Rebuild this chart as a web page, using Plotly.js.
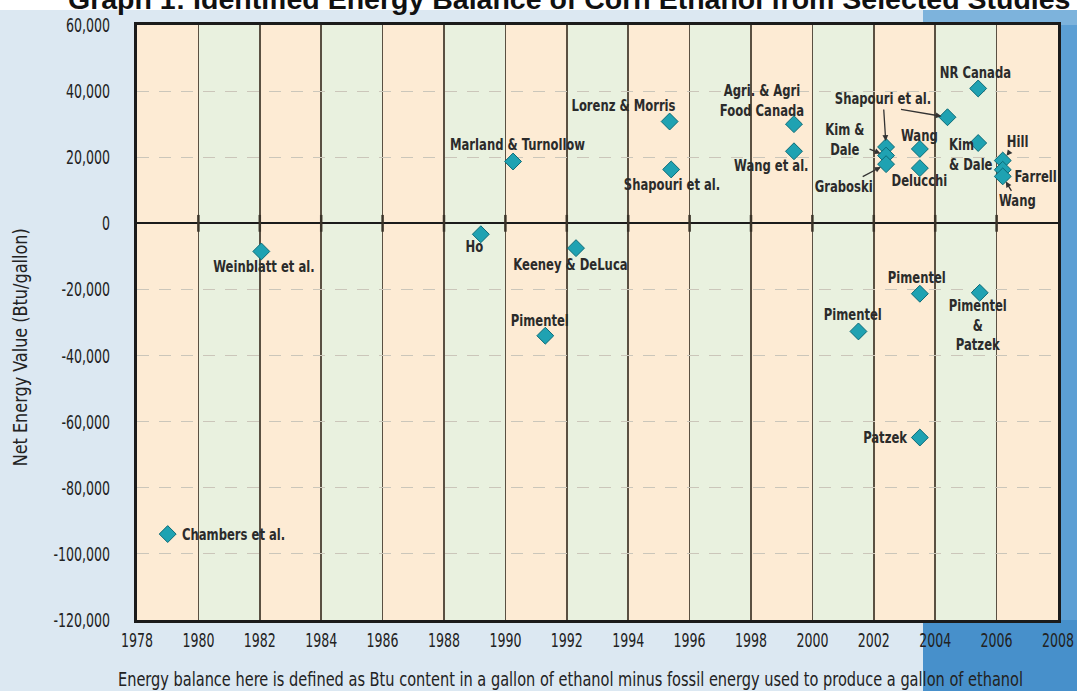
<!DOCTYPE html>
<html>
<head>
<meta charset="utf-8">
<script src="https://cdn.plot.ly/plotly-3.0.1.min.js"></script>
<style>
  html, body { margin: 0; padding: 0; background: #dce8f2; }
  #chart { width: 1077px; height: 691px; }
</style>
</head>
<body>
<div id="chart"></div>
<script>
// ---------------- DATA ----------------
const chartTitle = "Graph 1: Identified Energy Balance of Corn Ethanol from Selected Studies";
const yAxisTitle = "Net Energy Value (Btu/gallon)";
const caption = "Energy balance here is defined as Btu content in a gallon of ethanol minus fossil energy used to produce a gallon of ethanol";

const studies = [
  "Chambers et al.", "Weinblatt et al.", "Ho", "Marland & Turnollow", "Pimentel",
  "Keeney & DeLuca", "Lorenz & Morris", "Shapouri et al.", "Agri. & Agri\nFood Canada", "Wang et al.",
  "Pimentel", "Shapouri et al.", "Kim &\nDale", "Graboski", "Wang",
  "Delucchi", "Pimentel", "Patzek", "Shapouri et al.", "NR Canada",
  "Kim\n& Dale", "Pimentel\n&\nPatzek", "Hill", "Farrell", "Wang"
];
const years = [
  1979.0, 1982.05, 1989.2, 1990.25, 1991.3,
  1992.3, 1995.35, 1995.4, 1999.4, 1999.4,
  2001.5, 2002.4, 2002.4, 2002.4, 2003.5,
  2003.5, 2003.5, 2003.5, 2004.4, 2005.4,
  2005.4, 2005.45, 2006.2, 2006.2, 2006.2
];
const netEnergy = [
  -94000, -8500, -3300, 18700, -34000,
  -7500, 30800, 16300, 30000, 21800,
  -32700, 23100, 20500, 17900, 22500,
  16700, -21300, -64800, 32100, 40800,
  24300, -21000, 19000, 16200, 14200
];
const xTickValues = [1978, 1980, 1982, 1984, 1986, 1988, 1990, 1992, 1994, 1996, 1998, 2000, 2002, 2004, 2006, 2008];
const yTickValues = [60000, 40000, 20000, 0, -20000, -40000, -60000, -80000, -100000, -120000];

// ---------------- STYLE / PLACEMENT ----------------
// label offsets in pixels relative to each marker (dx right, dy down)
const labelPlacement = [
  {dx: 12, dy: 1, anchor: "left", align: "left"},
  {dx: 3, dy: 16},
  {dx: -6, dy: 13},
  {dx: 4, dy: -17},
  {dx: -5, dy: -15},
  {dx: -6, dy: 17},
  {dx: -46, dy: -16},
  {dx: 1, dy: 16},
  {dx: -32, dy: -23},
  {dx: -22, dy: 15},
  {dx: -5, dy: -16},
  {dx: -3, dy: -48, arrow: true},
  {dx: -41, dy: -16, arrow: true},
  {dx: -43, dy: 23, arrow: true},
  {dx: 0, dy: -13},
  {dx: 0, dy: 13},
  {dx: -3, dy: -16},
  {dx: -10, dy: 0, anchor: "right", align: "right"},
  {dx: -48, dy: -8, arrow: true, noText: true},
  {dx: -3, dy: -15},
  {dx: -31, dy: 12, anchor: "left", align: "left"},
  {dx: -2, dy: 33},
  {dx: 15, dy: -19, arrow: true},
  {dx: 33, dy: 7, arrow: true},
  {dx: 15, dy: 25, arrow: true}
];

const FONT = '"Liberation Sans Narrow", "DejaVu Sans Condensed", "Arial Narrow", sans-serif';
const W = 1077, H = 691;
const M = {l: 137, r: 19, t: 25, b: 71};
const PW = W - M.l - M.r, PH = H - M.t - M.b;
const px2x = p => (p - M.l) / PW;
const py2y = p => 1 + (M.t - p) / PH;

const ORANGE = "#fdebd4", GREEN = "#e9f1df";

// ---------------- SHAPES ----------------
const shapes = [];
shapes.push({type: "rect", xref: "paper", yref: "paper", x0: px2x(0), x1: px2x(W), y0: py2y(10), y1: py2y(0),
  fillcolor: "#ffffff", line: {width: 0}, layer: "below"});
shapes.push({type: "rect", xref: "paper", yref: "paper", x0: px2x(923), x1: px2x(W), y0: py2y(M.t), y1: py2y(10),
  fillcolor: "#7db3dc", line: {width: 0}, layer: "below"});
shapes.push({type: "rect", xref: "paper", yref: "paper", x0: 1, x1: px2x(W), y0: py2y(H - M.b), y1: py2y(M.t),
  fillcolor: "#5c9fd4", line: {width: 0}, layer: "below"});
shapes.push({type: "rect", xref: "paper", yref: "paper", x0: px2x(923), x1: px2x(W), y0: py2y(H), y1: 0,
  fillcolor: "#4790cb", line: {width: 0}, layer: "below"});
for (let i = 0; i < xTickValues.length - 1; i++) {
  shapes.push({type: "rect", xref: "x", yref: "paper", x0: xTickValues[i], x1: xTickValues[i + 1], y0: 0, y1: 1,
    fillcolor: i % 2 === 0 ? ORANGE : GREEN, line: {width: 0}, layer: "below"});
}

// ---------------- ANNOTATIONS ----------------
const labelFont = {family: FONT, size: 15, color: "#2b2b2b", weight: "bold"};
const annotations = [];
studies.forEach((name, i) => {
  const p = labelPlacement[i];
  const text = p.noText ? "" : name.replace(/\n/g, "<br>");
  if (p.arrow) {
    annotations.push({
      x: years[i], y: netEnergy[i], xref: "x", yref: "y",
      text: text, showarrow: true, ax: p.dx, ay: p.dy,
      arrowhead: 2, arrowsize: 0.9, arrowwidth: 1.3, arrowcolor: "#333333", standoff: 6,
      font: labelFont, align: p.align || "center"
    });
  } else {
    annotations.push({
      x: years[i], y: netEnergy[i], xref: "x", yref: "y",
      text: text, showarrow: false, xshift: p.dx, yshift: -p.dy,
      xanchor: p.anchor || "center", yanchor: "middle",
      font: labelFont, align: p.align || "center"
    });
  }
});
const nLabels = annotations.length;
annotations.push({
  text: chartTitle, xref: "paper", yref: "paper", x: px2x(66), y: py2y(-1),
  xanchor: "left", yanchor: "middle", showarrow: false, align: "left",
  font: {family: '"Liberation Sans", Arial, sans-serif', size: 28.5, color: "#111111", weight: "bold"}
});
const yTitleIdx = annotations.length;
annotations.push({
  text: yAxisTitle, xref: "paper", yref: "paper", x: px2x(20), y: py2y(348),
  xanchor: "center", yanchor: "middle", textangle: -90, showarrow: false,
  font: {family: FONT, size: 19, color: "#222222"}
});
const captionIdx = annotations.length;
annotations.push({
  text: caption, xref: "paper", yref: "paper", x: px2x(570), y: py2y(679),
  xanchor: "center", yanchor: "middle", showarrow: false,
  font: {family: FONT, size: 20, color: "#222222"}
});

// ---------------- TRACES ----------------
const innerTicks = xTickValues.slice(1, -1);
const zeroTicks = {
  type: "scatter", mode: "markers", hoverinfo: "skip",
  x: innerTicks, y: innerTicks.map(() => 0),
  marker: {symbol: "line-ns", size: 12, line: {color: "#3a3328", width: 2.5}}
};
const trace = {
  type: "scatter", mode: "markers",
  x: years, y: netEnergy, text: studies.map(s => s.replace(/\n/g, " ")),
  hoverinfo: "text+y",
  marker: {symbol: "diamond", size: 13, color: "#1fa2b2", line: {color: "#0c6b77", width: 1}}
};

const fmt = v => (v < 0 ? "-" : "") + Math.abs(v).toLocaleString("en-US");

const layout = {
  width: W, height: H,
  margin: M,
  paper_bgcolor: "#dce8f2",
  plot_bgcolor: ORANGE,
  showlegend: false,
  font: {family: FONT, color: "#222222", size: 20},
  xaxis: {
    range: [1978, 2008.0001], tickvals: xTickValues, ticktext: xTickValues.map(String),
    showgrid: true, gridcolor: "#5a5042", gridwidth: 1.5,
    zeroline: false, showline: true, mirror: true, linecolor: "#1b1b1b", linewidth: 3,
    ticks: "", ticklabelstandoff: 0, ticklabeloverflow: "allow",
    tickfont: {family: FONT, size: 20, color: "#222222"}
  },
  yaxis: {
    range: [-120000, 60000], tickvals: yTickValues, ticktext: yTickValues.map(fmt),
    showgrid: true, gridcolor: "#cbc6ba", gridwidth: 1, griddash: "12px,10px",
    zeroline: true, zerolinecolor: "#1b1b1b", zerolinewidth: 2,
    showline: true, mirror: true, linecolor: "#1b1b1b", linewidth: 3,
    ticks: "", ticklabelstandoff: 20, tickfont: {family: FONT, size: 20, color: "#222222"}
  },
  shapes: shapes,
  annotations: annotations
};

// emulate the condensed typeface of the original by narrowing glyphs (text stays text)
function condense(el, factor, target) {
  const lines = el.querySelectorAll("tspan.line");
  const parts = lines.length ? Array.from(lines) : [el];
  parts.forEach(t => {
    const len = t.getComputedTextLength();
    if (len > 0) {
      t.setAttribute("lengthAdjust", "spacingAndGlyphs");
      t.setAttribute("textLength", (target ? target : len * factor).toFixed(1));
    }
  });
}

Plotly.newPlot("chart", [zeroTicks, trace], layout, {displayModeBar: false, staticPlot: true}).then(gd => {
  gd.querySelectorAll(".xtick text, .ytick text").forEach(t => condense(t, 0.70));
  gd.querySelectorAll("g.annotation").forEach(g => {
    const idx = +g.getAttribute("data-index");
    const t = g.querySelector("text.annotation-text");
    if (!t) return;
    if (idx < nLabels) condense(t, 0.86);
    else if (idx === yTitleIdx) condense(t, 1, 238);
    else if (idx === captionIdx) condense(t, 1, 905);
  });
});
</script>
</body>
</html>
